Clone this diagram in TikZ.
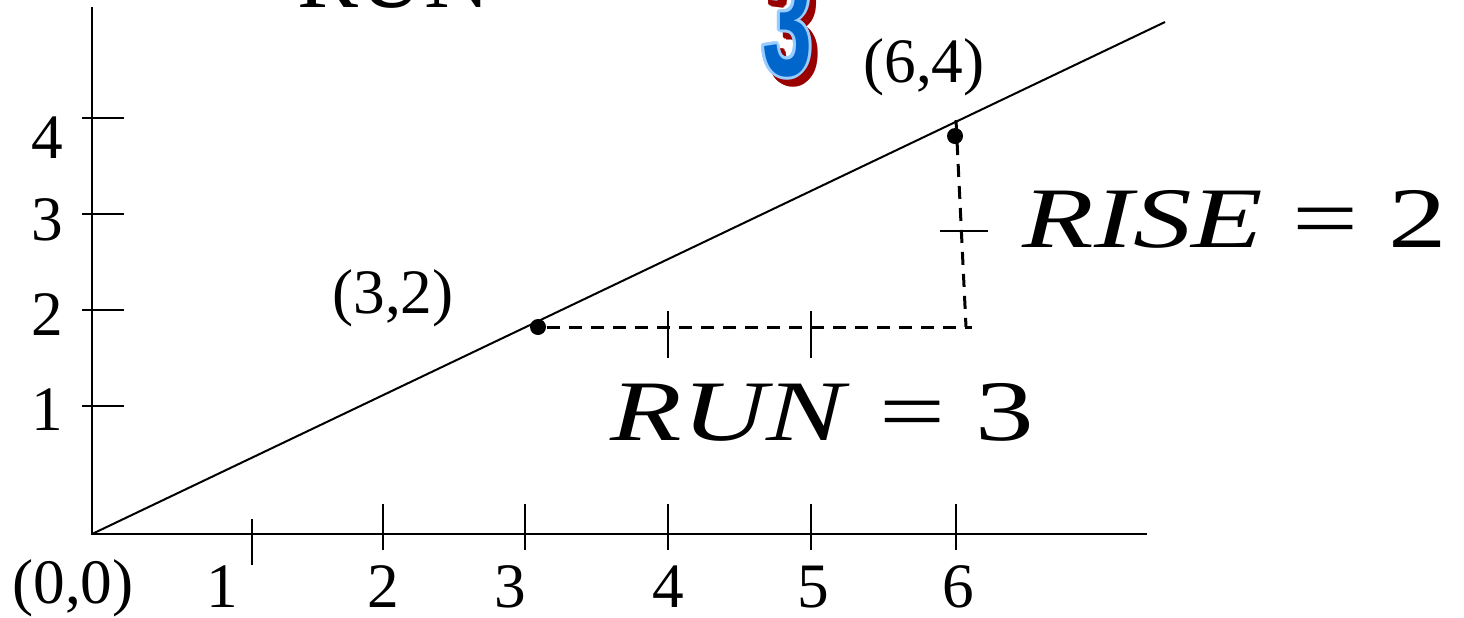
\documentclass[tikz,border=0pt]{standalone}
\usepackage{fontspec}
\setmainfont{Liberation Serif}
\newfontfamily\artfont{Liberation Sans}
\usetikzlibrary{calc}
\definecolor{artblue}{RGB}{0,102,204}
\definecolor{artrim}{RGB}{153,204,255}
\definecolor{artshade}{RGB}{153,0,0}
\newcommand{\artthree}{\scalebox{0.58}[1]{3}}
\tikzset{
  ax/.style={black, line width=0.02cm},
  dsh/.style={black, line width=0.03cm, dash pattern=on 0.13cm off 0.09cm},
  pdot/.style={circle, fill=black, inner sep=0pt, minimum size=0.16cm},
  tlab/.style={font=\fontsize{18}{20}\selectfont, inner sep=0pt},
  blab/.style={font=\fontsize{24.5}{28}\selectfont, inner sep=0pt, anchor=base west},
  numart/.style={font=\artfont\bfseries\fontsize{44}{48}\selectfont, inner sep=0pt},
}
\begin{document}
\begin{tikzpicture}[x=0.01cm,y=-0.01cm]
\useasboundingbox (0,0) rectangle (1464,617);
%---- title, cut off at the top
\node[font=\fontsize{26}{30}\selectfont, anchor=base west, inner sep=0pt] (ttl) at (297,7) {RUN};
\coordinate (n3) at (787,22);
\foreach \a in {0,30,...,330}
  \node[numart, text=artshade] at ($(n3)+(6,7)+(\a:3)$) {\artthree};
\foreach \a in {0,30,...,330}
  \node[numart, text=artrim] at ($(n3)+(\a:3)$) {\artthree};
\node[numart, text=artblue] (three) at (n3) {\artthree};
%---- axes and the line
\coordinate (O) at (92,534);
\coordinate (ytop) at (92,7);
\coordinate (xend) at (1147,534);
\coordinate (lend) at (1165,22);
\draw[ax] (ytop) -- (O) -- (xend);
\draw[ax] (O) -- (lend);
\foreach \x/\t/\lx/\n in {252/519/222/1,383/504/383/2,525/504/510/3,668/504/668/4,811/504/813/5,956/504/958/6}{
  \draw[ax] (\x,\t) -- ++(0,46);
  \node[tlab, anchor=base] at (\lx,607) {\n};}
\foreach \y/\b/\n in {118/158/4,214/240/3,310/335/2,406/430/1}{
  \draw[ax] (82,\y) -- (124,\y);
  \node[tlab, anchor=base] at (47,\b) {\n};}
\node[tlab] (orig) at (73,588) {(0,0)};
%---- the two points, rise and run
\node[pdot] (p32) at (538,327) {};
\node[pdot] (p64) at (955,136) {};
\node[tlab] (l32) at (393,298) {(3,2)};
\node[tlab] (l64) at (924,67) {(6,4)};
\coordinate (hend) at (972,327);
\coordinate (vtop) at (956,120);
\coordinate (vbot) at (966,327);
\draw[dsh] (p32) -- (hend);
\draw[dsh] (vtop) -- (vbot);
\foreach \x in {668,811}
  \draw[ax] (\x,311) -- (\x,358);
\draw[ax] (940,231) -- (988,231);
\node[blab] (rise) at (1022,247) {\scalebox{1.36}[1]{\textit{RISE} = 2}};
\node[blab] (run) at (610,440) {\scalebox{1.36}[1]{\textit{RUN} = 3}};
\end{tikzpicture}
\end{document}
